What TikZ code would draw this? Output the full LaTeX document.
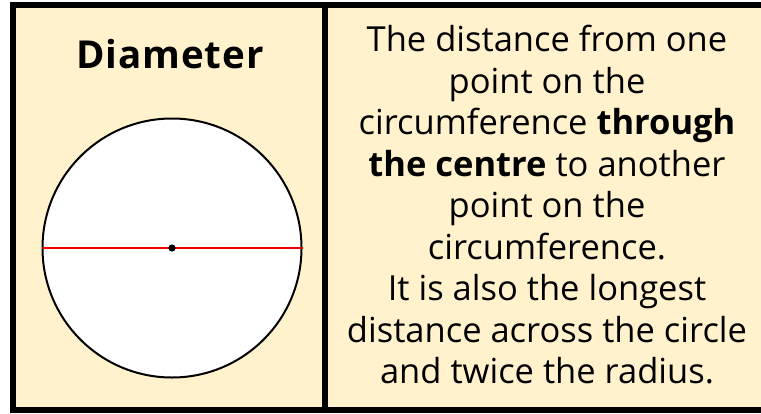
\documentclass[tikz,border=0pt]{standalone}
\usepackage{fontspec}
\setmainfont{Open Sans}
\newfontfamily\titlefont[LetterSpace=2.5]{Open Sans}
\usetikzlibrary{positioning}
\definecolor{CardBg}{RGB}{255,242,204}
\definecolor{DiamRed}{RGB}{240,0,0}
\tikzset{
  frame/.style={draw=black,line width=6pt},
  disc/.style={circle,draw=black,fill=white,line width=2pt,
               minimum size=259pt,inner sep=0pt},
  chord/.style={line width=2.4pt,DiamRed},
  title/.style={font=\titlefont\fontsize{38.5}{44}\selectfont\bfseries,anchor=base},
  desc/.style={font=\fontsize{34.5}{41.5}\selectfont,align=center},
}

\begin{document}
\begin{tikzpicture}[x=1pt,y=-1pt]
  \clip (0,0) rectangle (761,413);
  \fill[white] (0,0) rectangle (761,413);

  % card and divider
  \draw[frame,fill=CardBg] (13,4.5) rectangle (790,410);
  \coordinate (divtop) at (325,4.5);
  \coordinate (divbot) at (325,410);
  \draw[frame] (divtop) -- (divbot);

  % left panel
  \node[title] (name) at (170,68) {Diameter};
  \node[disc] (circ) at (172,248) {};
  \draw[chord] (circ.west) -- (circ.east);
  \fill (circ.center) circle (3.6);

  % right panel
  \node[desc] (text) at (547,205) {The distance from one\\
    point on the\\
    circumference \textbf{through}\\
    \textbf{the centre} to another\\
    point on the\\
    circumference.\\
    It is also the longest\\
    distance across the circle\\
    and twice the radius.};
\end{tikzpicture}
\end{document}
